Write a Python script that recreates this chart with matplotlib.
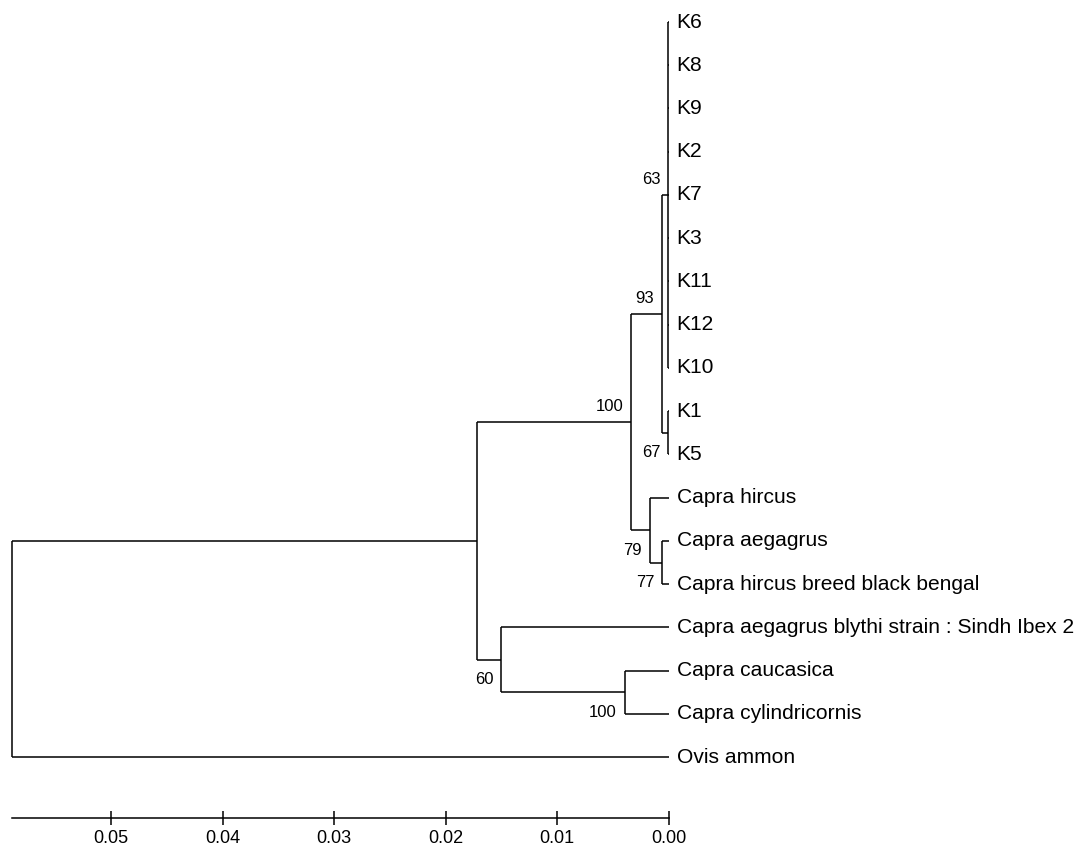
import matplotlib
matplotlib.use("Agg")
import matplotlib.pyplot as plt

# ---- data ----
tip_labels = ["K6", "K8", "K9", "K2", "K7", "K3", "K11", "K12", "K10", "K1", "K5",
              "Capra hircus", "Capra aegagrus", "Capra hircus breed black bengal",
              "Capra aegagrus blythi strain : Sindh Ibex 2",
              "Capra caucasica", "Capra cylindricornis", "Ovis ammon"]

node_names = ["root", "A", "B", "C", "D", "E", "F", "G", "H", "I"]
node_heights = [0.05892, 0.01722, 0.00338, 0.00063, 0.00003, 0.00003,
                0.00168, 0.00057, 0.01501, 0.00392]
node_children = [
    ["A", "Ovis ammon"],
    ["B", "H"],
    ["C", "F"],
    ["D", "E"],
    ["K6", "K8", "K9", "K2", "K7", "K3", "K11", "K12", "K10"],
    ["K1", "K5"],
    ["Capra hircus", "G"],
    ["Capra aegagrus", "Capra hircus breed black bengal"],
    ["Capra aegagrus blythi strain : Sindh Ibex 2", "I"],
    ["Capra caucasica", "Capra cylindricornis"],
]
node_support = [None, None, 100, 93, 63, 67, 79, 77, 60, 100]

scale_ticks = [0.05, 0.04, 0.03, 0.02, 0.01, 0.00]
scale_tick_labels = ["0.05", "0.04", "0.03", "0.02", "0.01", "0.00"]

# ---- layout ----
W, H = 1083, 849
fig = plt.figure(figsize=(W / 100, H / 100), dpi=100)
ax = fig.add_axes([0, 0, 1, 1])

px_per_unit_x = 11150.0
x0_px = 668.7
ax.set_xlim(x0_px / px_per_unit_x, -(W - x0_px) / px_per_unit_x)
y0_px, dy_px = 22.0, 43.24
ax.set_ylim((H - y0_px) / dy_px, -y0_px / dy_px)

LW = 1.1
FONT = ["Liberation Sans", "DejaVu Sans"]

height = {n: h for n, h in zip(node_names, node_heights)}
children = {n: c for n, c in zip(node_names, node_children)}
support = {n: s for n, s in zip(node_names, node_support)}
tip_y = {t: i for i, t in enumerate(tip_labels)}
for t in tip_labels:
    height[t] = 0.0

ypos = {}

def get_y(n):
    if n in tip_y:
        ypos[n] = tip_y[n]
        return ypos[n]
    ys = [get_y(c) for c in children[n]]
    ypos[n] = (ys[0] + ys[-1]) / 2.0
    return ypos[n]

get_y("root")

# branches
for n in node_names:
    ch = children[n]
    ys = [ypos[c] for c in ch]
    ax.plot([height[n], height[n]], [min(ys), max(ys)], color="black",
            lw=LW, solid_capstyle="butt")
    for i, c in enumerate(ch):
        ax.plot([height[n], height[c]], [ypos[c], ypos[c]], color="black",
                lw=LW, solid_capstyle="butt")
        if c in support and support[c] is not None:
            above = (i == 0)
            ax.annotate(str(support[c]), xy=(height[c], ypos[c]),
                        xytext=(-8, 15 if above else -20),
                        textcoords="offset pixels", ha="right", va="center",
                        fontsize=12, family=FONT)

# tip labels
for t in tip_labels:
    ax.annotate(t, xy=(0.0, ypos[t]), xytext=(8, 0), textcoords="offset pixels",
                ha="left", va="center", fontsize=15.1, family=FONT)

# scale bar as the bottom axis
for s in ["top", "left", "right"]:
    ax.spines[s].set_visible(False)
ax.spines["bottom"].set_position(("data", (818 - y0_px) / dy_px))
ax.spines["bottom"].set_bounds(0.0, height["root"])
ax.spines["bottom"].set_linewidth(LW)
ax.set_yticks([])
ax.set_xticks(scale_ticks)
ax.set_xticklabels(scale_tick_labels, fontsize=13, family=FONT)
ax.tick_params(axis="x", direction="inout", length=9.4, width=LW, pad=4.0)
ax.patch.set_visible(False)

fig.savefig("out.png", dpi=100, facecolor="white")
